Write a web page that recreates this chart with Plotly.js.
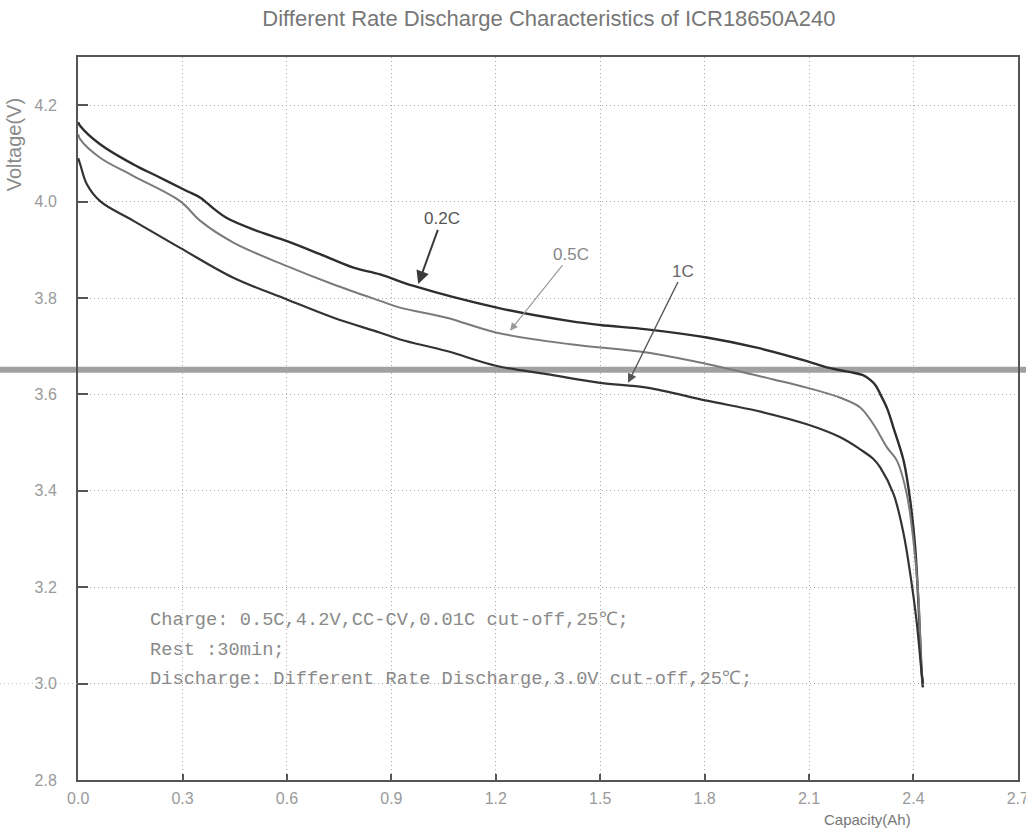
<!DOCTYPE html>
<html>
<head>
<meta charset="utf-8">
<script src="https://cdn.plot.ly/plotly-3.0.1.min.js"></script>
<style>html,body{margin:0;padding:0;background:#fff;}#chart{width:1026px;height:833px;}</style>
</head>
<body>
<div id="chart"></div>
<script>
// Capacity (Ah) and voltage (V)
const cap02 = [0.0, 0.006, 0.063, 0.159, 0.226, 0.312, 0.351, 0.390, 0.427, 0.504, 0.600, 0.695, 0.791, 0.868, 0.964, 1.203, 1.414, 1.500, 1.634, 1.806, 1.950, 2.094, 2.151, 2.190, 2.228, 2.255, 2.276, 2.292, 2.305, 2.325, 2.343, 2.372, 2.391, 2.405, 2.415, 2.424, 2.427];
const volt02 = [4.165, 4.157, 4.119, 4.077, 4.053, 4.022, 4.008, 3.985, 3.966, 3.942, 3.918, 3.891, 3.863, 3.849, 3.825, 3.780, 3.752, 3.744, 3.735, 3.718, 3.697, 3.669, 3.656, 3.650, 3.645, 3.640, 3.630, 3.618, 3.600, 3.570, 3.530, 3.462, 3.379, 3.283, 3.158, 3.020, 2.992];

const cap05 = [0.0, 0.006, 0.063, 0.159, 0.293, 0.351, 0.446, 0.600, 0.734, 0.868, 0.925, 1.059, 1.203, 1.414, 1.634, 1.806, 1.998, 2.094, 2.190, 2.247, 2.285, 2.324, 2.353, 2.381, 2.400, 2.415, 2.424, 2.428];
const volt05 = [4.140, 4.129, 4.091, 4.053, 4.001, 3.960, 3.915, 3.866, 3.828, 3.794, 3.780, 3.759, 3.728, 3.704, 3.687, 3.663, 3.631, 3.614, 3.593, 3.573, 3.538, 3.490, 3.462, 3.393, 3.296, 3.172, 3.020, 2.998];

const cap1 = [0.0, 0.006, 0.025, 0.063, 0.159, 0.293, 0.446, 0.600, 0.734, 0.868, 0.925, 1.059, 1.203, 1.347, 1.500, 1.634, 1.806, 1.950, 2.094, 2.190, 2.247, 2.285, 2.305, 2.343, 2.372, 2.391, 2.410, 2.424, 2.428];
const volt1 = [4.090, 4.077, 4.036, 4.001, 3.960, 3.904, 3.842, 3.797, 3.759, 3.728, 3.714, 3.690, 3.659, 3.642, 3.624, 3.614, 3.587, 3.566, 3.538, 3.511, 3.486, 3.466, 3.448, 3.393, 3.310, 3.227, 3.124, 3.020, 3.000];

const xTicks = [0.0, 0.3, 0.6, 0.9, 1.2, 1.5, 1.8, 2.1, 2.4, 2.7];
const xTickText = ['0.0', '0.3', '0.6', '0.9', '1.2', '1.5', '1.8', '2.1', '2.4', '2.7'];
const yTicks = [2.8, 3.0, 3.2, 3.4, 3.6, 3.8, 4.0, 4.2];
const yTickText = ['2.8', '3.0', '3.2', '3.4', '3.6', '3.8', '4.0', '4.2'];

const rateLabels = ['0.2C', '0.5C', '1C'];
const noteLines = [
  'Charge: 0.5C,4.2V,CC-CV,0.01C cut-off,25℃;',
  'Rest :30min;',
  'Discharge: Different Rate Discharge,3.0V cut-off,25℃;'
];
const scanLineVolt = 3.651;

const traces = [
  {x: cap02, y: volt02, name: rateLabels[0], mode: 'lines', line: {color: '#2e2e2e', width: 2.4, shape: 'spline', smoothing: 1}},
  {x: cap05, y: volt05, name: rateLabels[1], mode: 'lines', line: {color: '#7a7a7a', width: 2, shape: 'spline', smoothing: 1}},
  {x: cap1, y: volt1, name: rateLabels[2], mode: 'lines', line: {color: '#333333', width: 2.2, shape: 'spline', smoothing: 1}}
];

const gridFont = {family: 'Liberation Sans, Arial, sans-serif', size: 16, color: '#9a9a9a'};
const monoFont = {family: 'Liberation Mono, Courier New, monospace', size: 18.7, color: '#8a8a8a'};

const annotations = [
  {x: 0.977, y: 3.829, ax: 1.045, ay: 3.964, axref: 'x', ayref: 'y', text: rateLabels[0], showarrow: true,
   arrowhead: 2, arrowsize: 1.3, arrowwidth: 2, arrowcolor: '#3a3a3a', font: {family: 'Liberation Sans, Arial', size: 17, color: '#555'}},
  {x: 1.241, y: 3.732, ax: 1.417, ay: 3.891, axref: 'x', ayref: 'y', text: rateLabels[1], showarrow: true,
   arrowhead: 2, arrowsize: 1.3, arrowwidth: 1.2, arrowcolor: '#9a9a9a', font: {family: 'Liberation Sans, Arial', size: 17, color: '#888'}},
  {x: 1.58, y: 3.624, ax: 1.739, ay: 3.856, axref: 'x', ayref: 'y', text: rateLabels[2], showarrow: true,
   arrowhead: 2, arrowsize: 1.3, arrowwidth: 1.4, arrowcolor: '#555', font: {family: 'Liberation Sans, Arial', size: 17, color: '#666'}},
  {x: 0.201, y: 3.131, xanchor: 'left', yanchor: 'middle', text: noteLines[0], showarrow: false, font: monoFont},
  {x: 0.201, y: 3.070, xanchor: 'left', yanchor: 'middle', text: noteLines[1], showarrow: false, font: monoFont},
  {x: 0.201, y: 3.010, xanchor: 'left', yanchor: 'middle', text: noteLines[2], showarrow: false, font: monoFont},
  {xref: 'paper', yref: 'paper', x: -0.068, y: 0.878, text: 'Voltage(V)', textangle: -90, showarrow: false,
   xanchor: 'center', yanchor: 'middle', font: {family: 'Liberation Sans, Arial', size: 20, color: '#8a8a8a'}},
  {xref: 'paper', yref: 'paper', x: 0.840, y: -0.055, text: 'Capacity(Ah)', showarrow: false,
   xanchor: 'center', yanchor: 'middle', font: {family: 'Liberation Sans, Arial', size: 15, color: '#777'}}
];

const shapes = [
  {type: 'line', xref: 'paper', yref: 'y', x0: -0.083, x1: 1.009, y0: scanLineVolt, y1: scanLineVolt,
   line: {color: 'rgba(130,130,130,0.75)', width: 6}, layer: 'below'},
  {type: 'line', xref: 'paper', yref: 'y', x0: -0.083, x1: 0, y0: 3.0, y1: 3.0,
   line: {color: '#bbb', width: 1, dash: '1px,3px'}}
];

const layout = {
  width: 1026, height: 833,
  margin: {l: 78, r: 8, t: 57, b: 53},
  paper_bgcolor: '#ffffff', plot_bgcolor: '#ffffff',
  showlegend: false,
  title: {text: 'Different Rate Discharge Characteristics of ICR18650A240', x: 0.535, xanchor: 'center', y: 0.978, yanchor: 'middle',
          font: {family: 'Liberation Sans, Arial, sans-serif', size: 22, color: '#777'}},
  xaxis: {range: [-0.0005, 2.7005], tickvals: xTicks, ticktext: xTickText, tickfont: gridFont,
          showgrid: true, gridcolor: '#a8a8a8', griddash: '1px,3px', gridwidth: 1,
          showline: true, mirror: true, linecolor: '#555', linewidth: 2, ticklabeloverflow: 'allow',
          ticks: 'inside', ticklen: 6, tickcolor: '#555', tickwidth: 2, ticklabelstandoff: 3, zeroline: false, fixedrange: true},
  yaxis: {range: [2.8, 4.3], tickvals: yTicks, ticktext: yTickText, tickfont: gridFont,
          showgrid: true, gridcolor: '#a8a8a8', griddash: '1px,3px', gridwidth: 1,
          showline: true, mirror: true, linecolor: '#555', linewidth: 2,
          ticks: 'inside', ticklen: 10, tickcolor: '#555', tickwidth: 2, ticklabelstandoff: 16, zeroline: false, fixedrange: true},
  annotations: annotations,
  shapes: shapes
};

Plotly.newPlot('chart', traces, layout, {displayModeBar: false, staticPlot: true});
</script>
</body>
</html>
